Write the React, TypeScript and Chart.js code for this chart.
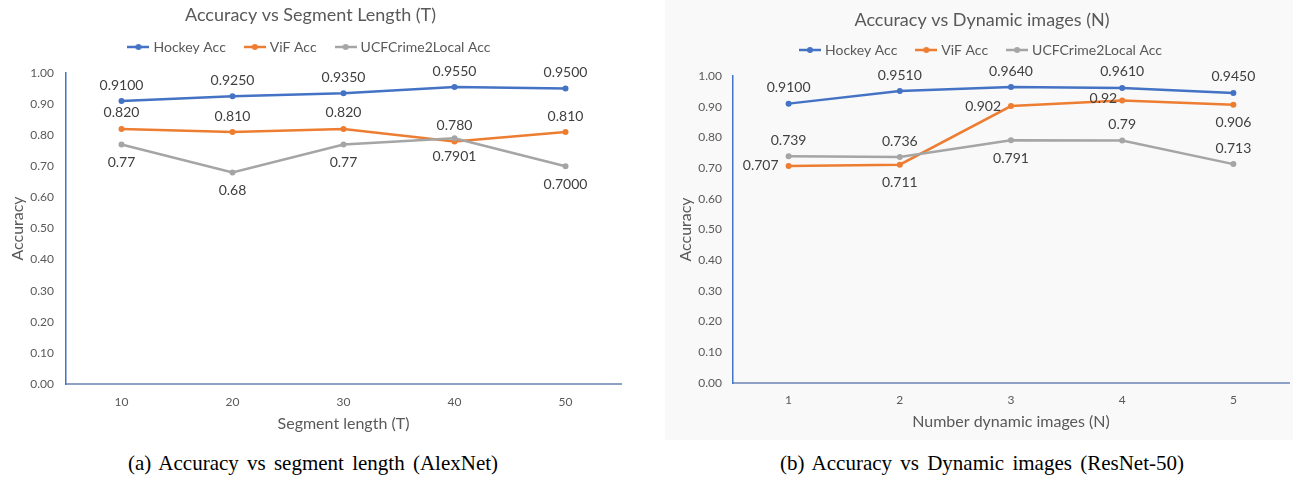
import React, { useEffect, useRef } from 'react';
import { Chart, registerables } from 'chart.js';

Chart.register(...registerables);

// ---------- data ----------
const segmentLengths = ['10', '20', '30', '40', '50'];
const segHockey = [0.91, 0.925, 0.935, 0.955, 0.95];
const segViF = [0.82, 0.81, 0.82, 0.78, 0.81];
const segUCF = [0.77, 0.68, 0.77, 0.7901, 0.7];
const segHockeyText = ['0.9100', '0.9250', '0.9350', '0.9550', '0.9500'];
const segViFText = ['0.820', '0.810', '0.820', '0.780', '0.810'];
const segUCFText = ['0.77', '0.68', '0.77', '0.7901', '0.7000'];

const dynamicCounts = ['1', '2', '3', '4', '5'];
const dynHockey = [0.91, 0.951, 0.964, 0.961, 0.945];
const dynViF = [0.707, 0.711, 0.902, 0.92, 0.906];
const dynUCF = [0.739, 0.736, 0.791, 0.79, 0.713];
const dynHockeyText = ['0.9100', '0.9510', '0.9640', '0.9610', '0.9450'];
const dynViFText = ['0.707', '0.711', '0.902', '0.92', '0.906'];
const dynUCFText = ['0.739', '0.736', '0.791', '0.79', '0.713'];

const seriesNames = ['Hockey Acc', 'ViF Acc', 'UCFCrime2Local Acc'];

// ---------- label placement (style) ----------
const segHockeyPlace = ['above', 'above', 'above', 'above', 'above'];
const segViFPlace = ['above', 'above', 'above', 'above', 'above'];
const segUCFPlace = ['below', 'below', 'below', 'below', 'below'];
const dynHockeyPlace = ['above', 'above', 'above', 'above', 'above'];
const dynViFPlace = ['left', 'below', 'left', 'upleft', 'below'];
const dynUCFPlace = ['above', 'above', 'below', 'above', 'above'];

const COLORS = ['#4472C4', '#ED7D31', '#A5A5A5'];
const FONT = 'Lato, "Noto Sans", sans-serif';
const TEXT = '#595959';

function makeIcon(color: string) {
  const c = document.createElement('canvas');
  c.width = 22;
  c.height = 8;
  const g = c.getContext('2d')!;
  g.strokeStyle = color;
  g.lineWidth = 2.5;
  g.beginPath();
  g.moveTo(0, 4);
  g.lineTo(22, 4);
  g.stroke();
  g.fillStyle = color;
  g.beginPath();
  g.arc(11, 4, 3, 0, Math.PI * 2);
  g.fill();
  return c;
}

const pointLabelPlugin = {
  id: 'pointLabels',
  afterDatasetsDraw(chart: any) {
    const ctx = chart.ctx;
    ctx.save();
    ctx.font = `14px ${FONT}`;
    ctx.fillStyle = '#404040';
    ctx.textBaseline = 'middle';
    chart.data.datasets.forEach((ds: any, i: number) => {
      const meta = chart.getDatasetMeta(i);
      meta.data.forEach((pt: any, j: number) => {
        const place = ds.labelPlaces[j];
        const text = ds.labelTexts[j];
        let x = pt.x;
        let y = pt.y;
        if (place === 'above') {
          ctx.textAlign = 'center';
          y -= 16;
        } else if (place === 'below') {
          ctx.textAlign = 'center';
          y += 18;
        } else if (place === 'left') {
          ctx.textAlign = 'right';
          x -= 10;
        } else {
          ctx.textAlign = 'right';
          x -= 5;
          y -= 2;
        }
        ctx.fillText(text, x, y);
      });
    });
    ctx.restore();
  },
};

type Geo = {
  width: number;
  height: number;
  padLeft: number;
  padRight: number;
  yWidth: number;
  yTickPad: number;
  yTitlePad: number;
  xHeight: number;
  xTickPad: number;
  xTitlePad: number;
  titleTop: number;
  titleBottom: number;
  spacer: number;
};

type Props = {
  labels: string[];
  values: number[][];
  texts: string[][];
  places: string[][];
  title: string;
  xTitle: string;
  geo: Geo;
};

function LinePanel({ labels, values, texts, places, title, xTitle, geo }: Props) {
  const ref = useRef<HTMLCanvasElement | null>(null);
  useEffect(() => {
    if (!ref.current) return;
    const icons = COLORS.map(makeIcon);
    const chart = new Chart(ref.current, {
      type: 'line',
      data: {
        labels,
        datasets: values.map((v, i) => ({
          label: seriesNames[i],
          data: v,
          borderColor: COLORS[i],
          backgroundColor: COLORS[i],
          borderWidth: 2.5,
          pointRadius: 3,
          pointHoverRadius: 3,
          pointBorderWidth: 0,
          pointBackgroundColor: COLORS[i],
          tension: 0,
          fill: false,
          order: 3 - i,
          labelTexts: texts[i],
          labelPlaces: places[i],
        })) as any,
      },
      options: {
        responsive: false,
        animation: false,
        layout: { padding: { left: geo.padLeft, right: geo.padRight, top: 0, bottom: 0 } },
        plugins: {
          title: {
            display: true,
            text: title,
            color: TEXT,
            font: { family: FONT, size: 18, weight: 'normal' },
            padding: { top: geo.titleTop, bottom: geo.titleBottom },
          },
          subtitle: {
            display: true,
            text: '',
            weight: 500,
            font: { size: 1, lineHeight: 1 },
            padding: { top: 0, bottom: geo.spacer - 1 },
          } as any,
          legend: {
            display: true,
            position: 'top',
            labels: {
              usePointStyle: true,
              pointStyleWidth: 16,
              padding: 21,
              color: TEXT,
              font: { family: FONT, size: 14 },
              generateLabels: (c: any) =>
                c.data.datasets.map((ds: any, i: number) => ({
                  text: ds.label,
                  fillStyle: ds.borderColor,
                  strokeStyle: ds.borderColor,
                  lineWidth: 0,
                  pointStyle: icons[i],
                  datasetIndex: i,
                  hidden: false,
                  fontColor: TEXT,
                })),
            },
          },
          tooltip: { enabled: false },
        },
        scales: {
          x: {
            type: 'category',
            offset: true,
            grid: { display: false, drawTicks: false },
            border: { display: true, color: '#8EA0C6', width: 2 },
            ticks: { color: TEXT, font: { family: FONT, size: 12 }, padding: geo.xTickPad },
            title: {
              display: true,
              text: xTitle,
              color: TEXT,
              font: { family: FONT, size: 16 },
              padding: { top: 0, bottom: geo.xTitlePad },
            },
            afterFit: (s: any) => {
              s.height = geo.xHeight;
            },
          },
          y: {
            min: 0,
            max: 1,
            grid: { display: false, drawTicks: false },
            border: { display: true, color: '#4472C4', width: 1.5 },
            ticks: {
              stepSize: 0.1,
              color: TEXT,
              font: { family: FONT, size: 12 },
              padding: geo.yTickPad,
              callback: (v: any) => Number(v).toFixed(2),
            },
            title: {
              display: true,
              text: 'Accuracy',
              color: TEXT,
              font: { family: FONT, size: 16 },
              padding: { top: geo.yTitlePad, bottom: 0 },
            },
            afterFit: (s: any) => {
              s.width = geo.yWidth;
            },
          },
        },
      },
      plugins: [pointLabelPlugin],
    });
    return () => chart.destroy();
  }, []);
  return <canvas ref={ref} width={geo.width} height={geo.height} style={{ display: 'block' }} />;
}

const leftGeo: Geo = {
  width: 626,
  height: 440,
  padLeft: 0,
  padRight: 5,
  yWidth: 66,
  yTickPad: 12,
  yTitlePad: 8.4,
  xHeight: 56,
  xTickPad: 11,
  xTitlePad: 6.4,
  titleTop: 4,
  titleBottom: -6.6,
  spacer: 9,
};

const rightGeo: Geo = {
  width: 628,
  height: 440,
  padLeft: 10,
  padRight: 4,
  yWidth: 58,
  yTickPad: 11,
  yTitlePad: 1.4,
  xHeight: 57,
  xTickPad: 10,
  xTitlePad: 8.4,
  titleTop: 9.2,
  titleBottom: -8.8,
  spacer: 9,
};

const captionStyle: React.CSSProperties = {
  position: 'absolute',
  top: 451,
  height: 24,
  lineHeight: '24px',
  textAlign: 'center',
  fontFamily: '"Liberation Serif", "Times New Roman", serif',
  fontSize: 21,
  wordSpacing: 3,
  color: '#000',
  whiteSpace: 'nowrap',
};

export default function App() {
  return (
    <div style={{ position: 'absolute', left: 0, top: 0, width: 1293, height: 479, background: '#fff', overflow: 'hidden' }}>
      <div style={{ position: 'absolute', left: 0, top: 0, width: 626, height: 440, background: '#fff' }}>
        <LinePanel
          labels={segmentLengths}
          values={[segHockey, segViF, segUCF]}
          texts={[segHockeyText, segViFText, segUCFText]}
          places={[segHockeyPlace, segViFPlace, segUCFPlace]}
          title="Accuracy vs Segment Length (T)"
          xTitle="Segment length (T)"
          geo={leftGeo}
        />
      </div>
      <div style={{ position: 'absolute', left: 665, top: 0, width: 628, height: 440, background: '#f9f9f9' }}>
        <LinePanel
          labels={dynamicCounts}
          values={[dynHockey, dynViF, dynUCF]}
          texts={[dynHockeyText, dynViFText, dynUCFText]}
          places={[dynHockeyPlace, dynViFPlace, dynUCFPlace]}
          title="Accuracy vs Dynamic images (N)"
          xTitle="Number dynamic images (N)"
          geo={rightGeo}
        />
      </div>
      <div style={{ ...captionStyle, left: 0, width: 626 }}>(a) Accuracy vs segment length (AlexNet)</div>
      <div style={{ ...captionStyle, left: 682, width: 600 }}>(b) Accuracy vs Dynamic images (ResNet-50)</div>
    </div>
  );
}
